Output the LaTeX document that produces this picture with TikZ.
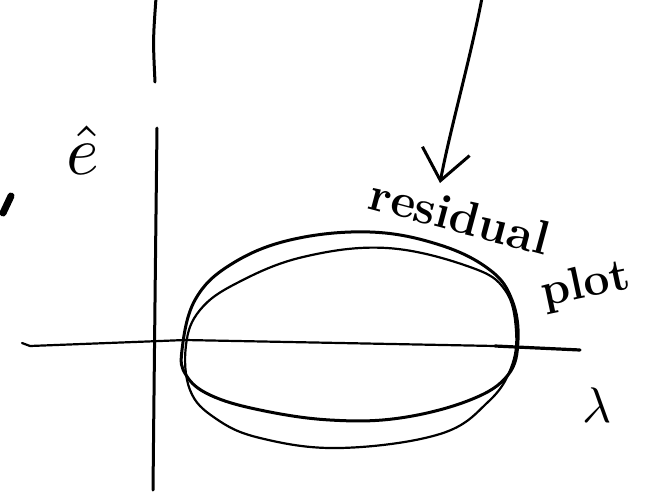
\documentclass[tikz,border=0pt]{standalone}
\usetikzlibrary{arrows.meta}
\begin{document}
\begin{tikzpicture}[x=1pt,y=-1pt,
  pen/.style={line width=3pt, line cap=round, line join=round},
  thinpen/.style={line width=2.2pt, line cap=round, line join=round},
  hand/.style={font=\fontsize{48}{48}\selectfont\bfseries, inner sep=0pt}]
\useasboundingbox[fill=white] (0,0) rectangle (654,496);
% vertical axis (two strokes)
\coordinate (vt1) at (156,-2);
\coordinate (vt2) at (155,82);
\draw[pen] (vt1) .. controls (153,40) .. (vt2);
\coordinate (vb1) at (157,128);
\coordinate (vb2) at (153,490);
\draw[pen] (vb1) .. controls (155,300) .. (vb2);
% horizontal axis
\coordinate (ha1) at (22,343);
\coordinate (ha2) at (580,350);
\draw[thinpen] (ha1) -- (30,346) -- (160,341) -- (185,340) -- (495,346);
\draw[line width=3.2pt, line cap=round] (495,346) -- (ha2);
% two hand-drawn loops
\draw[pen] plot[smooth cycle, tension=0.65] coordinates {
  (182,350) (195,300) (230,265) (290,240) (370,232) (440,245) (490,270)
  (512,300) (518,340) (508,375) (470,400) (400,418) (330,420) (260,410)
  (210,395) (186,375)};
\draw[thinpen] plot[smooth cycle, tension=0.65] coordinates {
  (186,345) (200,310) (237,283) (303,257) (387,248) (470,267) (505,290)
  (516,330) (511,368) (488,402) (440,434) (340,448) (260,438) (215,418)
  (190,390)};
% cut-off stroke at the left edge
\draw[line width=7pt, line cap=round] (3,213) -- (11,196);
% labels
\node[scale=7, inner sep=0pt] (ehat) at (83,150) {$\hat{e}$};
\node[scale=5, inner sep=0pt] (lam) at (597,405) {$\lambda$};
\node[hand, rotate=-15] (res) at (460,216) {residual};
\node[hand, font=\fontsize{46}{46}\selectfont\bfseries, rotate=12] (plt) at (586,286) {plot};
% arrow
\coordinate (atop) at (482,-2);
\coordinate (atip) at (440,183);
\draw[pen, -{Straight Barb[length=30pt,width=48pt,line width=3pt]}]
  (atop) .. controls (470,60) and (450,130) .. (atip);
\end{tikzpicture}
\end{document}
